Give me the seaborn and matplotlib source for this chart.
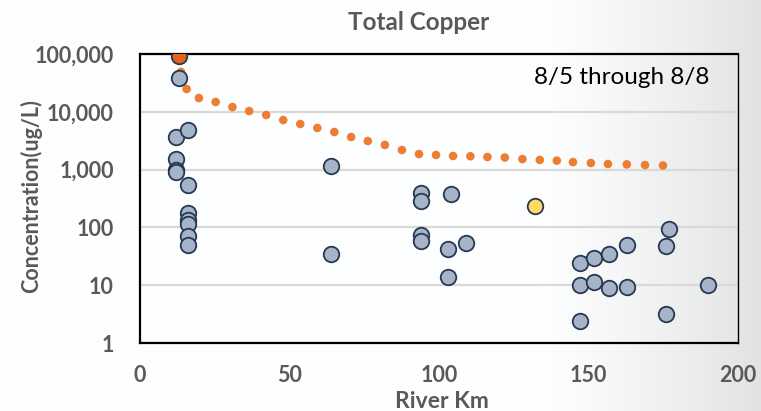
import numpy as np
import pandas as pd
import matplotlib
matplotlib.use("Agg")
import matplotlib.pyplot as plt
import seaborn as sns
from matplotlib.ticker import FuncFormatter, LogLocator, MultipleLocator, NullFormatter

# ---- data ----
sample_km = [13, 12, 16, 12, 12, 12, 16, 16, 16, 16, 16, 16,
             64, 64, 94, 94, 94, 94, 104, 103, 103, 109,
             147, 147, 147, 152, 152, 157, 157, 163, 163,
             177, 176, 176, 190]
sample_cu = [38500, 3660, 4840, 1520, 1000, 920, 542, 177, 134, 115, 71, 50,
             1150, 34, 394, 286, 74, 58, 378, 42, 13.9, 54,
             24, 10, 2.4, 29.6, 11.4, 35, 8.9, 50, 9.3,
             94, 48, 3.2, 10]

source_km = [13]
source_cu = [92000]

highlight_km = [132]
highlight_cu = [234]

model_km = [13.7, 15.6, 19.7, 25.3, 30.9, 36.5, 42.2, 47.9, 53.6, 59.3, 65.0,
            70.6, 76.2, 81.9, 87.6, 93.3, 99.0, 104.7, 110.5, 116.2, 122.0,
            127.9, 133.7, 139.4, 144.8, 150.8, 156.5, 162.8, 168.9, 174.9]
model_cu = [48900, 24800, 17300, 14800, 12100, 10300, 8800, 7200, 6150, 5250, 4470,
            3660, 3120, 2670, 2180, 1860, 1790, 1720, 1700, 1650, 1620,
            1520, 1470, 1430, 1350, 1300, 1250, 1230, 1200, 1180]

title = "Total Copper"
annotation = "8/5 through 8/8"
xlabel = "River Km"
ylabel = "Concentration(ug/L)"

samples = pd.DataFrame({"km": sample_km, "cu": sample_cu})
source = pd.DataFrame({"km": source_km, "cu": source_cu})
highlight = pd.DataFrame({"km": highlight_km, "cu": highlight_cu})
model = pd.DataFrame({"km": model_km, "cu": model_cu})

sns.set_theme(style="white")
plt.rcParams["font.family"] = ["Lato", "DejaVu Sans"]

fig = plt.figure(figsize=(7.61, 4.11), dpi=100)

# subtle slide-like background gradient
w, h = 761, 411
xs = np.linspace(0, 1, w)
shade = np.clip((xs - 0.70) / 0.30, 0, 1) ** 1.3
row = 1.0 - 0.11 * shade
bg = np.tile(row, (h, 1))
bg = np.dstack([bg * 0.995, bg * 0.997, bg, np.ones_like(bg)])
fig.figimage(bg, 0, 0, zorder=-10)
fig.patch.set_alpha(0)

ax = fig.add_axes([140 / 761, 1 - 343 / 411, 598 / 761, 289 / 411])
ax.patch.set_alpha(0)

gray = "#595959"
edge = "#263850"

sns.scatterplot(data=model, x="km", y="cu", ax=ax, s=38, color="#ed7d31",
                edgecolor="none", linewidth=0, zorder=3, legend=False)
sns.scatterplot(data=samples, x="km", y="cu", ax=ax, s=125, color="#a6b4c9",
                edgecolor=edge, linewidth=1.3, zorder=4, legend=False)
sns.scatterplot(data=highlight, x="km", y="cu", ax=ax, s=125, color="#ffd966",
                edgecolor=edge, linewidth=1.3, zorder=4, legend=False)
sns.scatterplot(data=source, x="km", y="cu", ax=ax, s=125, color="#e2621b",
                edgecolor=edge, linewidth=1.3, zorder=5, legend=False)

ax.set_yscale("log")
ax.set_ylim(1, 100000)
ax.set_xlim(0, 200)

ax.yaxis.set_major_locator(LogLocator(base=10, numticks=10))
ax.yaxis.set_minor_locator(LogLocator(base=10, subs=np.arange(2, 10), numticks=20))
ax.yaxis.set_minor_formatter(NullFormatter())
ax.yaxis.set_major_formatter(FuncFormatter(lambda v, p: f"{v:,.0f}"))
ax.xaxis.set_major_locator(MultipleLocator(50))
ax.xaxis.set_minor_locator(MultipleLocator(10))

ax.grid(True, axis="y", which="major", color="#d9d9d9", linewidth=1.6, zorder=0)
ax.set_axisbelow(True)

ax.tick_params(axis="both", which="major", direction="out", length=6, width=1.5,
               color="black", labelsize=15.5, labelcolor=gray)
ax.tick_params(axis="both", which="minor", direction="out", length=5.5, width=1.3,
               color="black")
ax.tick_params(axis="x", which="major", pad=10)
ax.tick_params(axis="y", which="major", pad=13)
for lab in ax.get_xticklabels() + ax.get_yticklabels():
    lab.set_fontweight("bold")

for side in ["left", "bottom", "top"]:
    ax.spines[side].set_color("black")
    ax.spines[side].set_linewidth(1.6)
ax.spines["right"].set_color("black")
ax.spines["right"].set_linewidth(1.0)

ax.set_xlabel(xlabel, fontsize=16.5, fontweight="bold", color=gray)
ax.xaxis.set_label_coords((442 - 140) / 598, (343 - 391) / 289)
ax.set_ylabel(ylabel, fontsize=15.5, fontweight="bold", color=gray)
ax.yaxis.set_label_coords((42 - 140) / 598, (343 - 196) / 289)

fig.text(419 / 761, 1 - 22 / 411, title, ha="center", va="center",
         fontsize=17.5, fontweight="bold", color=gray)
ax.text((709 - 140) / 598, (343 - 78) / 289, annotation, transform=ax.transAxes,
        ha="right", va="center", fontsize=17.5, color="black")

fig.savefig("out.png", dpi=100)
